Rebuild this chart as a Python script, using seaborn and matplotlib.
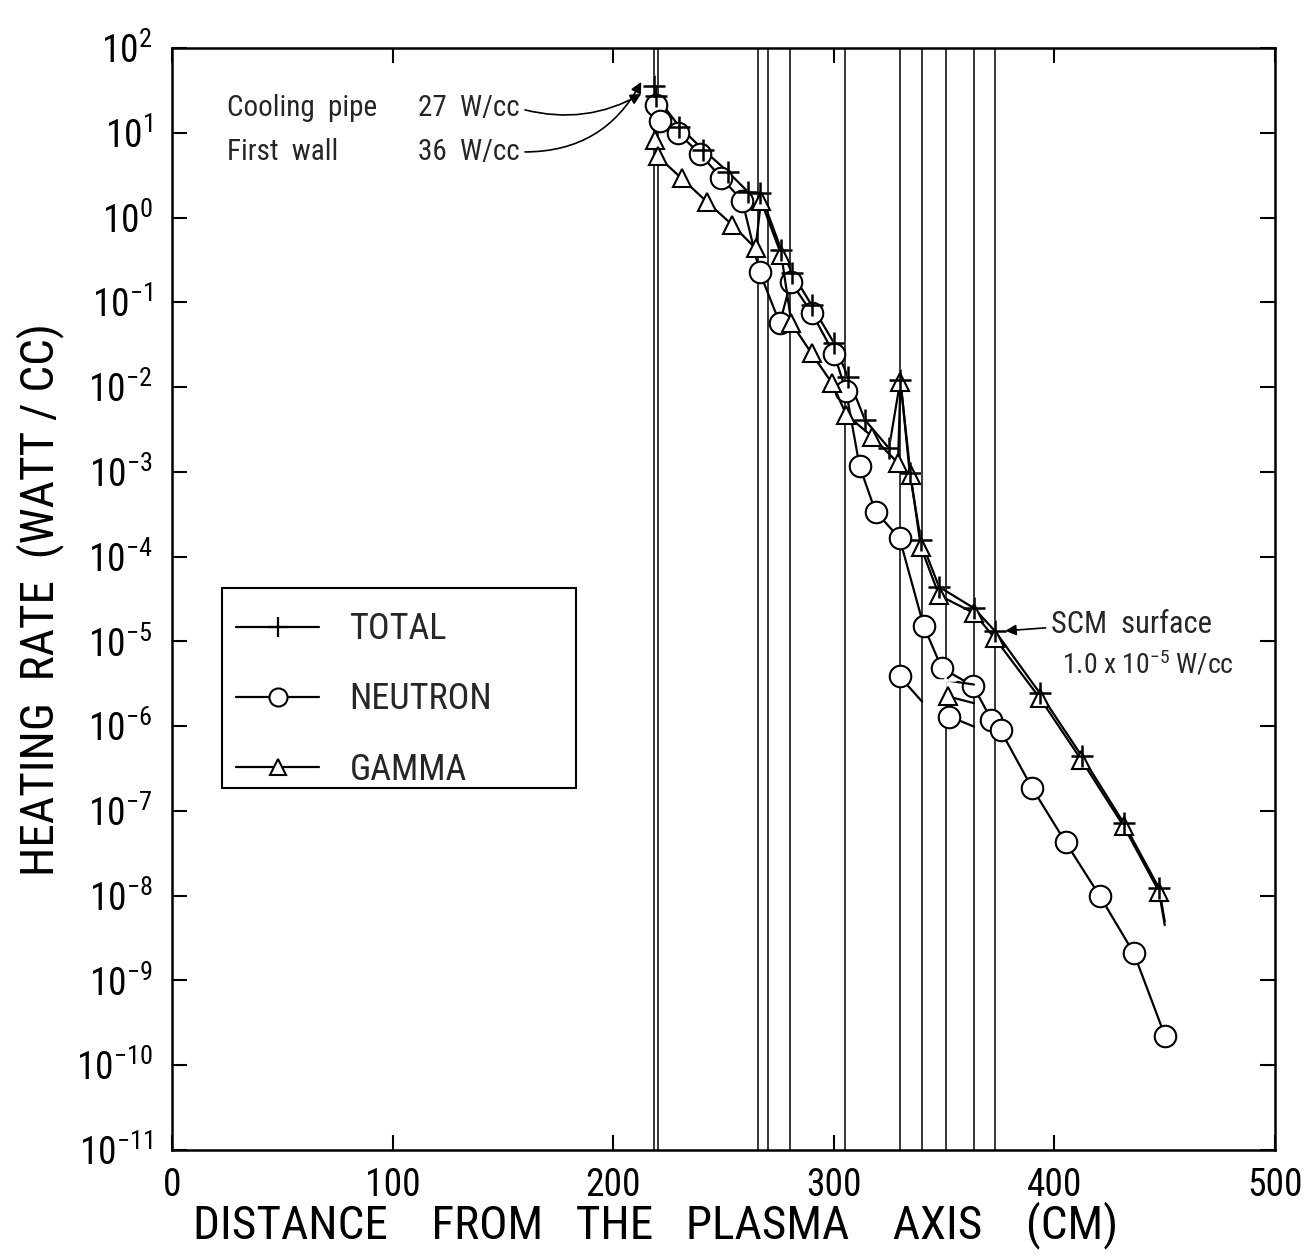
import matplotlib
matplotlib.use("Agg")
import matplotlib.pyplot as plt
from matplotlib import font_manager as fm
import seaborn as sns
import numpy as np
import pandas as pd
from matplotlib.lines import Line2D
from matplotlib.patches import Rectangle

# ---------------- data ----------------
total_x = [218.5, 219.5, 230.0, 240.9, 252.0, 261.0, 266.7, 276.2, 281.2, 289.9, 300.1, 306.3,
           314.1, 325.0, 330.2, 334.4, 339.4, 347.7, 363.5, 373.2, 393.4, 412.5, 431.4, 447.4, 450.0]
total_y = [36, 27, 11.8, 6.27, 3.47, 2.02, 1.94, 0.415, 0.22, 0.093, 0.033, 0.0133,
           0.0041, 0.0019, 0.0122, 9.7e-4, 1.58e-4, 4.4e-5, 2.47e-5, 1.31e-5, 2.45e-6, 4.4e-7, 7.2e-8, 1.23e-8, 4.98e-9]

neutron_x = [219.4, 221.0, 229.5, 239.5, 248.9, 258.5, 266.4, 275.5, 280.5, 290.1, 300.1, 305.5,
             311.7, 318.9, 329.8, 340.7, 348.9, 363.2, 371.4, 375.6, 389.9, 405.1, 420.5, 436.0, 450.2]
neutron_y = [21.3, 13.9, 9.9, 5.57, 2.96, 1.58, 0.226, 0.0567, 0.175, 0.0743, 0.0246, 0.0091,
             1.16e-3, 3.4e-4, 1.65e-4, 1.53e-5, 4.84e-6, 2.99e-6, 1.19e-6, 8.9e-7, 1.86e-7, 4.25e-8, 1.0e-8, 2.1e-9, 2.19e-10]

gamma_x = [218.9, 220.1, 231.0, 242.4, 254.0, 264.5, 267.0, 276.2, 280.8, 289.9, 299.2, 305.7,
           317.5, 329.1, 330.2, 334.8, 339.4, 347.7, 363.5, 373.0, 393.4, 412.2, 431.4, 447.4, 450.0]
gamma_y = [8.2, 5.3, 2.9, 1.54, 0.818, 0.435, 1.57, 0.362, 0.0567, 0.025, 0.0111, 0.0047,
           0.0026, 0.00127, 0.0116, 9.2e-4, 1.31e-4, 3.5e-5, 2.16e-5, 1.09e-5, 2.14e-6, 4.0e-7, 6.6e-8, 1.12e-8, 4.5e-9]

# short side branches ending at zone boundaries
branch_a_neutron_x = [329.8, 340.0]
branch_a_neutron_y = [3.86e-6, 1.95e-6]
branch_b_total_x = [350.2, 363.5]
branch_b_total_y = [3.5e-6, 3.1e-6]
branch_b_gamma_x = [351.8, 363.5]
branch_b_gamma_y = [2.24e-6, 1.87e-6]
branch_b_neutron_x = [352.4, 363.5]
branch_b_neutron_y = [1.3e-6, 9.9e-7]

# zone boundaries (cm)
boundaries = [218.5, 220.5, 265.5, 270.0, 280.0, 305.0, 330.0, 340.0, 351.0, 363.5, 373.0]

x_ticks = [0, 100, 200, 300, 400, 500]
y_exps = list(range(-11, 3))

# ---------------- style ----------------
sns.set_theme(style="ticks")
avail = {f.name for f in fm.fontManager.ttflist}
family = 'Liberation Sans'
for cand in ['Roboto Condensed', 'Archivo Narrow', 'PT Sans Narrow', 'Barlow Semi Condensed',
             'Liberation Sans Narrow', 'DejaVu Sans Condensed', 'Encode Sans Condensed',
             'Fira Sans Condensed', 'IBM Plex Sans Condensed']:
    if cand in avail:
        family = cand
        break
plt.rcParams['font.family'] = [family, 'DejaVu Sans']
plt.rcParams['mathtext.fontset'] = 'custom'
plt.rcParams['mathtext.rm'] = family
plt.rcParams['mathtext.it'] = family
plt.rcParams['mathtext.bf'] = family
plt.rcParams['mathtext.default'] = 'regular'
plt.rcParams['axes.unicode_minus'] = False

fig = plt.figure(figsize=(13.06, 12.57), dpi=100)
fig.patch.set_facecolor('white')
ax = fig.add_axes([0.1317, 0.0851, 0.8446, 0.8767])
ax.set_facecolor('white')
ax.set_yscale('log')
ax.set_xlim(0, 500)
ax.set_ylim(1e-11, 1e2)

for b in boundaries:
    ax.axvline(b, color='black', lw=1.1, zorder=1)

lw = 1.6
common = dict(color='black', lw=lw, sort=False, estimator=None, legend=False, ax=ax, zorder=3)

df_t = pd.DataFrame({'x': total_x, 'y': total_y})
sns.lineplot(data=df_t, x='x', y='y', marker='+', markersize=16, mew=1.8,
             markevery=list(range(len(total_x) - 1)), **common)

df_n = pd.DataFrame({'x': neutron_x, 'y': neutron_y})
sns.lineplot(data=df_n, x='x', y='y', marker='o', markersize=15.5, mfc='white', mec='black',
             mew=1.5, **common)

df_g = pd.DataFrame({'x': gamma_x, 'y': gamma_y})
sns.lineplot(data=df_g, x='x', y='y', marker='^', markersize=13.5, mfc='white', mec='black',
             mew=1.5, markevery=list(range(len(gamma_x) - 1)), **common)

# total crosses drawn again on top of the triangles
ax.plot(total_x[:-1], total_y[:-1], ls='none', marker='+', markersize=16, mew=1.8,
        color='black', zorder=5)

for bx, by, mk, ms in [(branch_a_neutron_x, branch_a_neutron_y, 'o', 15.5),
                       (branch_b_total_x, branch_b_total_y, '+', 16),
                       (branch_b_gamma_x, branch_b_gamma_y, '^', 13.5),
                       (branch_b_neutron_x, branch_b_neutron_y, 'o', 15.5)]:
    dfb = pd.DataFrame({'x': bx, 'y': by})
    kw = dict(mfc='white', mec='black', mew=1.5) if mk != '+' else dict(mew=1.8)
    sns.lineplot(data=dfb, x='x', y='y', marker=mk, markersize=ms, markevery=[0], **kw, **common)

# ---------------- axes ----------------
ax.set_xticks(x_ticks)
ax.set_xticklabels([str(v) for v in x_ticks], fontsize=27)
ax.set_yticks([10.0 ** k for k in y_exps])
ax.set_yticklabels([r'$\mathregular{10^{%d}}$' % k for k in y_exps], fontsize=27)
ax.minorticks_off()
ax.tick_params(axis='both', which='major', direction='in', length=11, width=1.5,
               top=True, right=True, labelcolor='black', color='black')
ax.tick_params(axis='x', pad=12)
ax.tick_params(axis='y', pad=14)
for s in ax.spines.values():
    s.set_visible(True)
    s.set_linewidth(1.8)
    s.set_color('black')

ax.set_xlabel('DISTANCE    FROM   THE   PLASMA    AXIS    (CM)', fontsize=34, color='black')
ax.xaxis.set_label_coords(0.438, -0.068)
ax.xaxis.label.set_verticalalignment('center')
ax.set_ylabel('HEATING  RATE  (WATT / CC)', fontsize=34, color='black')
ax.yaxis.set_label_coords(-0.1197, 0.5)
ax.yaxis.label.set_verticalalignment('center')

# ---------------- legend ----------------
handles = [Line2D([], [], color='black', lw=lw, marker='+', markersize=14, mew=1.6),
           Line2D([], [], color='black', lw=lw, marker='o', markersize=13, mfc='white', mec='black', mew=1.5),
           Line2D([], [], color='black', lw=lw, marker='^', markersize=12, mfc='white', mec='black', mew=1.5)]
leg = ax.legend(handles, ['TOTAL', 'NEUTRON', 'GAMMA'], loc='upper left',
                bbox_to_anchor=(0.058, 0.489), frameon=False, fontsize=26,
                handlelength=2.3, handletextpad=0.85, labelspacing=0.95,
                borderpad=0, borderaxespad=0)
ax.add_patch(Rectangle((0.0453, 0.3285), 0.3209, 0.1815, transform=ax.transAxes,
                       fill=False, edgecolor='black', lw=1.5, zorder=6))

# ---------------- annotations ----------------
tfs = 21
ax.text(25, 10 ** 1.29, 'Cooling  pipe', fontsize=tfs, ha='left', va='center')
ax.text(111.5, 10 ** 1.29, '27  W/cc', fontsize=tfs, ha='left', va='center')
ax.text(25, 10 ** 0.774, 'First  wall', fontsize=tfs, ha='left', va='center')
ax.text(111.5, 10 ** 0.774, '36  W/cc', fontsize=tfs, ha='left', va='center')
arrow_kw = dict(arrowstyle='-|>', color='black', lw=1.2, mutation_scale=16, shrinkA=0, shrinkB=0)
ax.annotate('', xy=(212.7, 10 ** 1.458), xytext=(160.0, 10 ** 1.27),
            arrowprops=dict(connectionstyle='arc3,rad=0.2', **arrow_kw))
ax.annotate('', xy=(212.7, 10 ** 1.60), xytext=(160.0, 10 ** 0.774),
            arrowprops=dict(connectionstyle='arc3,rad=0.3', **arrow_kw))

ax.text(398.5, 10 ** -4.804, 'SCM  surface', fontsize=22, ha='left', va='center')
ax.text(403.6, 10 ** -5.276, r'1.0 x 10$^{-5}$ W/cc', fontsize=20, ha='left', va='center')
ax.annotate('', xy=(377.7, 10 ** -4.875), xytext=(396.0, 10 ** -4.84),
            arrowprops=dict(connectionstyle='arc3,rad=0', **arrow_kw))

fig.savefig('out.png', dpi=100, facecolor='white')
